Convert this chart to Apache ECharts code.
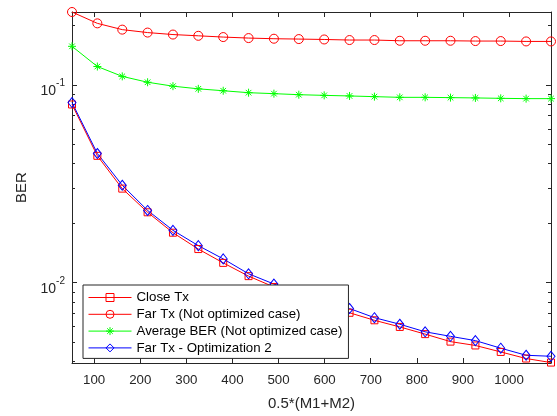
<!DOCTYPE html>
<html>
<head>
<meta charset="utf-8">
<script src="https://cdn.jsdelivr.net/npm/echarts@6/dist/echarts.min.js"></script>
<style>
  html, body { margin: 0; padding: 0; background: #fff; }
  #chart { width: 557px; height: 416px; }
</style>
</head>
<body>
<div id="chart"></div>
<script>
// 0.5*(M1+M2)
const xValues = [52, 107, 161, 216, 271, 326, 380, 435, 490, 544, 599, 654, 708, 763, 818, 873, 927, 982, 1037, 1091];

const closeTx = [0.0796, 0.0438, 0.0299, 0.0227, 0.0179, 0.0148, 0.0126, 0.0108, 0.00952, 0.00854,
  0.00775, 0.00705, 0.00646, 0.00598, 0.00550, 0.00504, 0.00482, 0.00447, 0.00414, 0.00395];
const farTx = [0.2335, 0.2046, 0.1902, 0.1838, 0.1796, 0.1770, 0.1744, 0.1724, 0.1711, 0.1704,
  0.1696, 0.1685, 0.1685, 0.1671, 0.1671, 0.1671, 0.1665, 0.1665, 0.1658, 0.1658];
const avgBer = [0.1566, 0.1238, 0.1104, 0.1031, 0.0985, 0.0955, 0.0934, 0.0913, 0.0903, 0.0892,
  0.0885, 0.0879, 0.0872, 0.0865, 0.0865, 0.0862, 0.0859, 0.0855, 0.0852, 0.0852];
const farTxOpt2 = [0.0814, 0.0450, 0.0311, 0.0232, 0.0184, 0.0154, 0.0132, 0.0111, 0.00985, 0.00884,
  0.00807, 0.00741, 0.00666, 0.00617, 0.00565, 0.00536, 0.00510, 0.00467, 0.00430, 0.00425];

const xTicks = [100, 200, 300, 400, 500, 600, 700, 800, 900, 1000];
const yMajorTicks = [0.01, 0.1];
const yMinorTicks = [0.004, 0.005, 0.006, 0.007, 0.008, 0.009,
  0.02, 0.03, 0.04, 0.05, 0.06, 0.07, 0.08, 0.09, 0.2];

const FONT = 'Liberation Sans, Arial, sans-serif';
const INK = '#262626';
const RED = '#ff0000', GREEN = '#00ff00', BLUE = '#0000ff';
const CLEAR = 'rgba(0,0,0,0)';
const STAR = 'path://M5,0L5,10M0,5L10,5M1.5,1.5L8.5,8.5M1.5,8.5L8.5,1.5';

function pairs(ys) {
  return ys.map((y, i) => [xValues[i], y]);
}

function lineSeries(name, ys, color, symbol, size) {
  return {
    name: name,
    type: 'line',
    data: pairs(ys),
    symbol: symbol,
    symbolSize: size,
    showAllSymbol: true,
    lineStyle: { color: color, width: 1 },
    itemStyle: { color: CLEAR, borderColor: color, borderWidth: 1 },
    emphasis: { disabled: true },
    clip: false
  };
}

function legendItem(name, color) {
  return {
    name: name,
    itemStyle: { color: CLEAR, borderColor: color, borderWidth: 1 },
    lineStyle: { color: color, width: 1 }
  };
}

const yMin = 0.00393, yMax = 0.2335;

function yAxisCfg(pos, ticks, len, withLine, withLabel) {
  return {
    type: 'log',
    position: pos,
    min: yMin,
    max: yMax,
    name: withLabel ? 'BER' : '',
    nameLocation: 'middle',
    nameGap: 40,
    nameTextStyle: { fontFamily: FONT, fontSize: 15, color: INK },
    axisLine: { show: withLine, lineStyle: { color: INK, width: 1 } },
    axisTick: { show: true, inside: true, length: len, customValues: ticks, lineStyle: { color: INK } },
    axisLabel: withLabel ? {
      show: true,
      margin: 7,
      customValues: yMajorTicks,
      padding: [7, 0, 0, 0],
      formatter: function (v) {
        const e = Math.round(Math.log10(v));
        return '{b|10}{s|' + e + '}';
      },
      rich: {
        b: { fontFamily: FONT, fontSize: 14, color: INK, lineHeight: 20, verticalAlign: 'bottom' },
        s: { fontFamily: FONT, fontSize: 10, color: INK, lineHeight: 10, verticalAlign: 'top' }
      }
    } : { show: false },
    splitLine: { show: false }
  };
}

function xAxisCfg(pos, withLabel) {
  return {
    type: 'value',
    position: pos,
    min: 52,
    max: 1091,
    name: withLabel ? '0.5*(M1+M2)' : '',
    nameLocation: 'middle',
    nameGap: 33,
    nameTextStyle: { fontFamily: FONT, fontSize: 15, color: INK },
    axisLine: { show: true, lineStyle: { color: INK, width: 1 } },
    axisTick: { show: true, inside: true, length: 5, customValues: xTicks, lineStyle: { color: INK } },
    axisLabel: withLabel ? {
      show: true,
      margin: 11,
      customValues: xTicks,
      formatter: function (v) { return String(v); },
      fontFamily: FONT,
      fontSize: 13.3,
      color: INK
    } : { show: false },
    splitLine: { show: false }
  };
}

const chart = echarts.init(document.getElementById('chart'), null, { renderer: 'canvas' });

chart.setOption({
  animation: false,
  backgroundColor: '#fff',
  grid: { left: 72, right: 6, top: 12, bottom: 47 },
  xAxis: [xAxisCfg('bottom', true), xAxisCfg('top', false)],
  yAxis: [
    yAxisCfg('left', yMajorTicks, 5, true, true),
    yAxisCfg('left', yMinorTicks, 3, false, false),
    yAxisCfg('right', yMajorTicks, 5, true, false),
    yAxisCfg('right', yMinorTicks, 3, false, false)
  ],
  legend: {
    orient: 'vertical',
    left: 83,
    top: 285,
    itemWidth: 43,
    itemHeight: 10,
    itemGap: 3.8,
    padding: [6, 6, 4, 5],
    backgroundColor: '#fff',
    borderColor: INK,
    borderWidth: 1,
    borderRadius: 0,
    selectedMode: false,
    textStyle: { fontFamily: FONT, fontSize: 13.3, color: '#000' },
    data: [
      legendItem('Close Tx', RED),
      legendItem('Far Tx (Not optimized case)', RED),
      legendItem('Average BER (Not optimized case)', GREEN),
      legendItem('Far Tx - Optimization 2', BLUE)
    ]
  },
  series: [
    lineSeries('Close Tx', closeTx, RED, 'rect', 7),
    lineSeries('Far Tx (Not optimized case)', farTx, RED, 'circle', 9),
    lineSeries('Average BER (Not optimized case)', avgBer, GREEN, STAR, 8),
    lineSeries('Far Tx - Optimization 2', farTxOpt2, BLUE, 'diamond', [8, 10])
  ]
});
</script>
</body>
</html>
